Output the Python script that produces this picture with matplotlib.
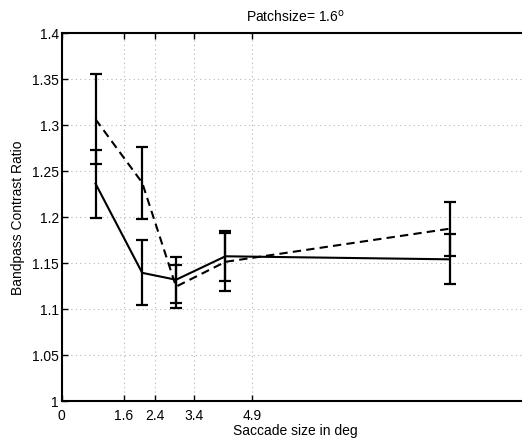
import matplotlib
matplotlib.use("Agg")
import matplotlib.pyplot as plt

plt.rcParams['font.family'] = ['Liberation Sans', 'DejaVu Sans']

# saccade size bins (deg) and contrast ratios
sacc_x = [0.87, 2.07, 2.94, 4.21, 9.98]
solid_y = [1.236, 1.139, 1.1315, 1.157, 1.1537]
solid_err = [0.037, 0.0355, 0.025, 0.027, 0.027]
dashed_y = [1.306, 1.237, 1.124, 1.151, 1.187]
dashed_err = [0.049, 0.039, 0.023, 0.0315, 0.0295]

xticks = [0, 1.6, 2.4, 3.4, 4.9]
xticklabels = ['0', '1.6', '2.4', '3.4', '4.9']
yticks = [1, 1.05, 1.1, 1.15, 1.2, 1.25, 1.3, 1.35, 1.4]
yticklabels = ['1', '1.05', '1.1', '1.15', '1.2', '1.25', '1.3', '1.35', '1.4']

fig = plt.figure(figsize=(5.22, 4.39), dpi=100)
ax = fig.add_axes([0.1182, 0.085, 0.894, 0.838])

ax.plot(sacc_x, solid_y, color='black', lw=1.5)
ax.plot(sacc_x, dashed_y, color='black', lw=1.5, dashes=(4, 2.5))
ax.errorbar(sacc_x, solid_y, yerr=solid_err, fmt='none', ecolor='black',
            elinewidth=1.6, capsize=4, capthick=1.6)
ax.errorbar(sacc_x, dashed_y, yerr=dashed_err, fmt='none', ecolor='black',
            elinewidth=1.6, capsize=4, capthick=1.6)

ax.set_xlim(0, 12)
ax.set_ylim(1, 1.4)
ax.set_xticks(xticks)
ax.set_xticklabels(xticklabels)
ax.set_yticks(yticks)
ax.set_yticklabels(yticklabels)
ax.grid(True, linestyle=(0, (1, 3)), color='#b4b4b4', lw=0.8)
ax.tick_params(direction='in', top=True, right=True, length=4, width=1,
               labelsize=10)
ax.tick_params(axis='x', pad=5)
ax.tick_params(axis='y', pad=2)
for s in ax.spines.values():
    s.set_linewidth(1.5)

ax.set_title('Patchsize= 1.6$^{\\mathrm{o}}$', fontsize=10, pad=9)
ax.set_xlabel('Saccade size in deg', fontsize=10, labelpad=1)
ax.set_ylabel('Bandpass Contrast Ratio', fontsize=10, labelpad=5)

fig.savefig('out.png', dpi=100)
